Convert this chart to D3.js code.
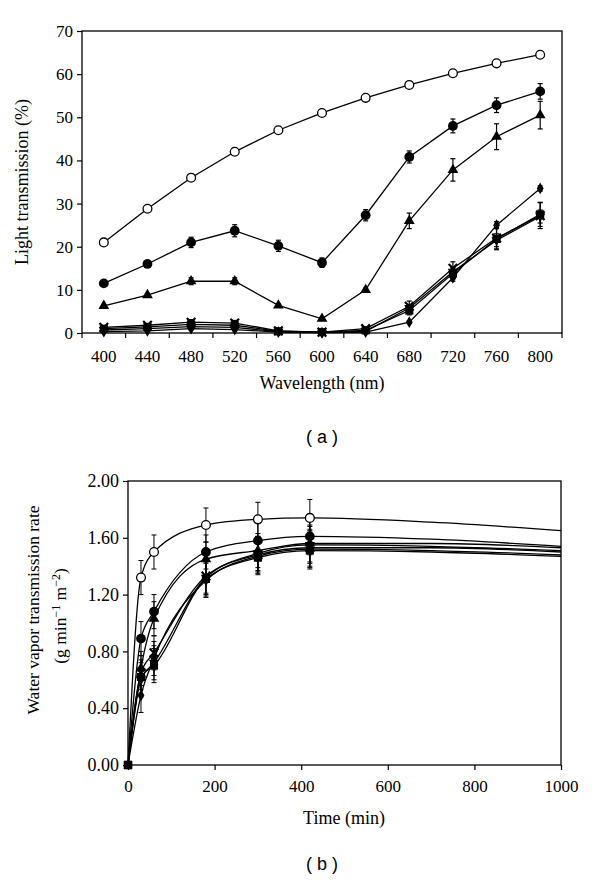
<!DOCTYPE html>
<html><head><meta charset="utf-8">
<script src="https://cdn.jsdelivr.net/npm/d3@7"></script>
<style>
body{margin:0;background:#fff}svg{display:block}
.serif{font-family:"Liberation Serif","Times New Roman",serif}
.sans{font-family:"Liberation Sans",Arial,sans-serif}
</style>
</head><body>
<svg id="c" width="600" height="880"></svg>
<script>
// ---------- DATA: panel (a) ----------
const wavelengths = [400,440,480,520,560,600,640,680,720,760,800];
const yTicksA = [0,10,20,30,40,50,60,70];
const aOpenCircle   = [21,28.8,36,42,47,51,54.5,57.5,60.2,62.5,64.5];
const aOpenCircleErr= [0.5,0.6,0.6,0.8,0.7,0.6,0.6,0.6,0.5,0.5,0.5];
const aFillCircle   = [11.5,16,21,23.7,20.2,16.3,27.3,40.8,48,52.8,56];
const aFillCircleErr= [0.5,0.6,1.2,1.4,1.3,1.1,1.3,1.4,1.6,1.7,1.8];
const aTriangle     = [6.3,8.8,12,12,6.4,3.3,10,26,37.8,45.5,50.5];
const aTriangleErr  = [0.3,0.4,0.8,0.8,0.4,0.3,0.4,1.8,2.6,3,3.2];
const aDiamond      = [0.3,0.5,1.0,0.8,0.2,0.1,0.2,2.5,12.8,25,33.5];
const aDiamondErr   = [0.2,0.2,0.3,0.3,0.1,0.1,0.1,0.3,0.8,0.8,0.6];
const aSquare       = [1.0,1.4,2.0,1.8,0.4,0.2,0.6,5.2,13.8,21.8,27.5];
const aSquareErr    = [0.3,0.3,0.5,0.5,0.2,0.1,0.3,1.0,1.2,2.5,2.8];
const aCross        = [1.3,1.8,2.5,2.3,0.5,0.2,1.0,6.2,15,22,27.2];
const aCrossErr     = [0.3,0.3,0.6,0.6,0.3,0.2,0.3,1.2,1.5,2.5,3];
const aTriDown      = [0.7,1.0,1.5,1.3,0.3,0.1,0.4,5.8,14.2,21.5,27];
const aTriDownErr   = [0.2,0.2,0.4,0.4,0.2,0.1,0.2,0.8,1.0,1.5,1.5];

// ---------- DATA: panel (b) ----------
const times = [0,30,60,180,300,420];
const tailTimes = [700,1000];
const xTicksB = [0,200,400,600,800,1000];
const yTicksB = [0,0.4,0.8,1.2,1.6,2.0];
const bOpenCircle = [0,1.32,1.50,1.69,1.73,1.74]; const bOpenCircleTail = [1.71,1.65];
const bFillCircle = [0,0.89,1.08,1.50,1.58,1.61]; const bFillCircleTail = [1.59,1.54];
const bTriangle   = [0,0.68,1.03,1.45,1.51,1.56]; const bTriangleTail   = [1.56,1.53];
const bDiamond    = [0,0.49,0.75,1.30,1.47,1.52]; const bDiamondTail    = [1.51,1.48];
const bSquare     = [0,0.62,0.70,1.31,1.46,1.51]; const bSquareTail     = [1.50,1.47];
const bCross      = [0,0.65,0.79,1.33,1.48,1.53]; const bCrossTail      = [1.53,1.50];
const bTriDown    = [0,0.60,0.72,1.32,1.49,1.55]; const bTriDownTail    = [1.54,1.51];
const bErr = [0,0.12,0.12,0.12,0.12,0.13];

const svg = d3.select("#c");

function marker(g, kind, x, y) {
  if (kind === "openCircle") {
    g.append("circle").attr("cx",x).attr("cy",y).attr("r",4.4).attr("fill","#fff").attr("stroke","#000").attr("stroke-width",1.3);
  } else if (kind === "fillCircle") {
    g.append("circle").attr("cx",x).attr("cy",y).attr("r",4.9).attr("fill","#000");
  } else if (kind === "cross") {
    g.append("path").attr("transform",`translate(${x},${y})`).attr("d",d3.symbol(d3.symbolTimes,50)()).attr("stroke","#000").attr("stroke-width",2.2).attr("fill","none");
  } else {
    const map = {triangle:[d3.symbolTriangle,50,0], diamond:[d3.symbolDiamond,40,0], square:[d3.symbolSquare,66,0], triDown:[d3.symbolTriangle,44,180]};
    const m = map[kind];
    g.append("path").attr("transform",`translate(${x},${y}) rotate(${m[2]})`).attr("d",d3.symbol(m[0],m[1])()).attr("fill","#000");
  }
}
function styleText(sel, size){ sel.attr("font-family",null).attr("class","serif").style("font-size",size+"px").attr("fill","#000"); }

// ================= PANEL (a) =================
const A = {l:82, r:562, t:31, b:333};
const xa = d3.scaleBand().domain(wavelengths).range([A.l,A.r]).padding(0);
const ya = d3.scaleLinear().domain([0,70]).range([A.b,A.t]);
const ga = svg.append("g");

const seriesA = [
  {k:"diamond", v:aDiamond, e:aDiamondErr},
  {k:"triDown", v:aTriDown, e:aTriDownErr},
  {k:"square", v:aSquare, e:aSquareErr},
  {k:"cross", v:aCross, e:aCrossErr},
  {k:"triangle", v:aTriangle, e:aTriangleErr},
  {k:"fillCircle", v:aFillCircle, e:aFillCircleErr},
  {k:"openCircle", v:aOpenCircle, e:aOpenCircleErr}
];
const cx = w => xa(w) + xa.bandwidth()/2;
const lineA = d3.line().x((d,i)=>cx(wavelengths[i])).y(d=>ya(d));
seriesA.forEach(s=>{
  ga.append("path").attr("d",lineA(s.v)).attr("fill","none").attr("stroke","#000").attr("stroke-width",1.3);
});
seriesA.forEach(s=>{
  s.v.forEach((v,i)=>{
    const x = cx(wavelengths[i]);
    ga.append("line").attr("x1",x).attr("x2",x).attr("y1",ya(v-s.e[i])).attr("y2",ya(v+s.e[i])).attr("stroke","#000").attr("stroke-width",1.2);
    [v-s.e[i], v+s.e[i]].forEach(e=>ga.append("line").attr("x1",x-2.5).attr("x2",x+2.5).attr("y1",ya(e)).attr("y2",ya(e)).attr("stroke","#000").attr("stroke-width",1.2));
  });
  s.v.forEach((v,i)=>marker(ga, s.k, cx(wavelengths[i]), ya(v)));
});
ga.append("rect").attr("x",A.l).attr("y",A.t).attr("width",A.r-A.l).attr("height",A.b-A.t).attr("fill","none").attr("stroke","#000").attr("stroke-width",1.3);
const yAxA = d3.axisLeft(ya).tickValues(yTicksA).tickSize(5).tickPadding(4).tickFormat(d3.format("d"));
ga.append("g").attr("transform",`translate(${A.l},0)`).call(yAxA)
  .call(g=>{g.attr("font-family",null); g.select(".domain").remove(); g.selectAll("line").attr("stroke","#000").attr("stroke-width",1.2);
    styleText(g.selectAll("text"),17);});
const xAxA = d3.axisBottom(xa).tickSize(0).tickPadding(17);
ga.append("g").attr("transform",`translate(0,${A.b})`).call(xAxA)
  .call(g=>{g.attr("font-family",null); g.select(".domain").remove(); styleText(g.selectAll("text"),17);});
wavelengths.concat([null]).forEach(w=>{
  const x = w===null ? A.r : xa(w);
  ga.append("line").attr("x1",x).attr("x2",x).attr("y1",A.b).attr("y2",A.b+5).attr("stroke","#000").attr("stroke-width",1.2);
});
ga.append("text").attr("class","serif").attr("x",322).attr("y",389).attr("text-anchor","middle").style("font-size","18px").text("Wavelength (nm)");
ga.append("text").attr("class","serif").attr("transform","translate(28,182) rotate(-90)").attr("text-anchor","middle").style("font-size","18px").text("Light transmission (%)");
ga.append("text").attr("class","sans").attr("x",322).attr("y",443).attr("text-anchor","middle").style("font-size","18px").text("( a )");

// ================= PANEL (b) =================
const B = {l:128, r:561, t:481, b:765};
const xb = d3.scaleLinear().domain([0,1000]).range([B.l,B.r]);
const yb = d3.scaleLinear().domain([0,2]).range([B.b,B.t]);
const gb = svg.append("g");
const seriesB = [
  {k:"diamond", v:bDiamond, t:bDiamondTail},
  {k:"square", v:bSquare, t:bSquareTail},
  {k:"triDown", v:bTriDown, t:bTriDownTail},
  {k:"cross", v:bCross, t:bCrossTail},
  {k:"triangle", v:bTriangle, t:bTriangleTail},
  {k:"fillCircle", v:bFillCircle, t:bFillCircleTail},
  {k:"openCircle", v:bOpenCircle, t:bOpenCircleTail}
];
const lineB = d3.line().x(d=>xb(d[0])).y(d=>yb(d[1])).curve(d3.curveMonotoneX);
seriesB.forEach(s=>{
  const pts = times.map((t,i)=>[t,s.v[i]]).concat(tailTimes.map((t,i)=>[t,s.t[i]]));
  gb.append("path").attr("d",lineB(pts)).attr("fill","none").attr("stroke","#000").attr("stroke-width",1.3);
});
seriesB.forEach(s=>{
  s.v.forEach((v,i)=>{
    if (bErr[i]===0) return;
    const x = xb(times[i]);
    gb.append("line").attr("x1",x).attr("x2",x).attr("y1",yb(v-bErr[i])).attr("y2",yb(v+bErr[i])).attr("stroke","#000").attr("stroke-width",1);
    [v-bErr[i], v+bErr[i]].forEach(e=>gb.append("line").attr("x1",x-2.5).attr("x2",x+2.5).attr("y1",yb(e)).attr("y2",yb(e)).attr("stroke","#000").attr("stroke-width",1));
  });
});
seriesB.forEach(s=>{
  s.v.forEach((v,i)=>marker(gb, i===0 ? "square" : s.k, xb(times[i]), yb(v)));
});
gb.append("rect").attr("x",B.l).attr("y",B.t).attr("width",B.r-B.l).attr("height",B.b-B.t).attr("fill","none").attr("stroke","#000").attr("stroke-width",1.3);
const yAxB = d3.axisLeft(yb).tickValues(yTicksB).tickSize(5).tickPadding(4).tickFormat(d3.format(".2f"));
gb.append("g").attr("transform",`translate(${B.l},0)`).call(yAxB)
  .call(g=>{g.attr("font-family",null); g.select(".domain").remove(); g.selectAll("line").attr("stroke","#000").attr("stroke-width",1.2);
    styleText(g.selectAll("text"),18);});
const xAxB = d3.axisBottom(xb).tickValues(xTicksB).tickSize(5).tickPadding(10).tickFormat(d3.format("d"));
gb.append("g").attr("transform",`translate(0,${B.b})`).call(xAxB)
  .call(g=>{g.attr("font-family",null); g.select(".domain").remove(); g.selectAll("line").attr("stroke","#000").attr("stroke-width",1.2);
    styleText(g.selectAll("text"),17);});
gb.append("text").attr("class","serif").attr("x",344).attr("y",824).attr("text-anchor","middle").style("font-size","18px").text("Time (min)");
gb.append("text").attr("class","serif").attr("transform","translate(39,610) rotate(-90)").attr("text-anchor","middle").style("font-size","17.5px").text("Water vapor transmission rate");
const l2 = gb.append("text").attr("class","serif").attr("transform","translate(66,616) rotate(-90)").attr("text-anchor","middle").style("font-size","17.5px");
l2.append("tspan").text("(g min");
l2.append("tspan").attr("dy",-6).style("font-size","12px").text("−1");
l2.append("tspan").attr("dy",6).text(" m");
l2.append("tspan").attr("dy",-6).style("font-size","12px").text("−2");
l2.append("tspan").attr("dy",6).text(")");
gb.append("text").attr("class","sans").attr("x",322).attr("y",870).attr("text-anchor","middle").style("font-size","18px").text("( b )");
</script>
</body></html>
